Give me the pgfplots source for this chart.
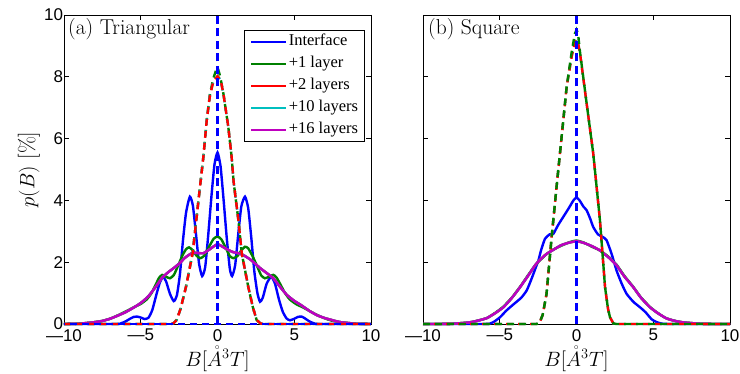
\documentclass[border=0pt]{standalone}
\usepackage{pgfplots}
\pgfplotsset{compat=1.18}
\usepackage{pgfplotstable}
\usepackage{fontspec}
\newfontfamily\tickfont{Liberation Sans}
\newfontfamily\legfont{Liberation Serif}
\definecolor{mblue}{rgb}{0,0,1}
\definecolor{mgreen}{rgb}{0,0.5,0}
\definecolor{mred}{rgb}{1,0,0}
\definecolor{mcyan}{rgb}{0,0.75,0.75}
\definecolor{mmag}{rgb}{0.75,0,0.75}
\newcommand\tickdash{—}

\pgfplotstableread{
x y
-10 0
-6.6 0
-6.3 0.02
-6.0 0.08
-5.7 0.17
-5.45 0.23
-5.25 0.24
-5.0 0.21
-4.75 0.16
-4.5 0.2
-4.25 0.45
-3.96 0.99
-3.75 1.35
-3.55 1.52
-3.35 1.38
-3.1 0.98
-2.85 0.74
-2.65 0.92
-2.45 1.6
-2.25 2.7
-2.05 3.6
-1.8 4.12
-1.6 3.82
-1.4 2.9
-1.2 1.95
-1.0 1.55
-0.8 1.85
-0.6 2.9
-0.4 4.1
-0.2 5.15
0 5.55
0.2 5.1
0.4 4.0
0.6 2.8
0.8 1.8
0.95 1.55
1.15 1.9
1.35 2.9
1.55 3.8
1.79 4.12
2.0 3.75
2.2 2.8
2.4 1.7
2.6 1.0
2.77 0.72
2.95 0.85
3.2 1.3
3.5 1.53
3.75 1.3
4.0 0.8
4.25 0.4
4.5 0.18
4.72 0.12
5.0 0.17
5.25 0.23
5.48 0.24
5.7 0.18
6.0 0.08
6.3 0.02
6.6 0
10 0
}\blueL

\pgfplotstableread{
x y
-10 0
-9 0.01
-8 0.06
-7.5 0.1
-7 0.17
-6.5 0.28
-6 0.4
-5.5 0.53
-5 0.65
-4.6 0.8
-4.3 1.0
-4.0 1.3
-3.8 1.5
-3.6 1.59
-3.35 1.53
-3.1 1.48
-2.85 1.58
-2.6 1.85
-2.3 2.2
-2.05 2.42
-1.85 2.48
-1.6 2.38
-1.35 2.2
-1.1 2.13
-0.85 2.22
-0.55 2.5
-0.25 2.76
0 2.83
0.25 2.74
0.55 2.45
0.8 2.2
1.03 2.13
1.3 2.2
1.55 2.38
1.79 2.5
2.0 2.45
2.3 2.18
2.6 1.85
2.85 1.57
3.09 1.48
3.35 1.53
3.64 1.59
3.85 1.5
4.1 1.28
4.4 1.0
4.7 0.8
5.1 0.65
5.59 0.53
6 0.42
6.5 0.29
7 0.18
7.5 0.1
8 0.06
9 0.01
10 0
}\greenL

\pgfplotstableread{
x y
-10 0
-9 0.01
-8 0.06
-7.5 0.1
-7 0.17
-6.5 0.27
-6 0.38
-5.5 0.52
-5 0.68
-4.5 0.9
-4.0 1.22
-3.6 1.5
-3.2 1.68
-2.8 1.83
-2.44 1.98
-2.1 2.15
-1.68 2.29
-1.3 2.3
-0.92 2.29
-0.5 2.42
0 2.58
0.5 2.45
0.99 2.33
1.3 2.3
1.68 2.23
2.1 2.1
2.44 1.96
2.8 1.8
3.2 1.65
3.64 1.48
4.0 1.25
4.5 0.95
5.0 0.75
5.48 0.6
6 0.42
6.5 0.28
7 0.19
7.44 0.13
8 0.06
9 0.01
10 0
}\magL

\pgfplotstableread{
x y
-10 0
-3.0 0
-2.85 0.03
-2.66 0.13
-2.4 0.5
-2.05 1.21
-1.62 2.29
-1.14 4.44
-0.92 5.41
-0.7 6.6
-0.49 7.4
-0.27 7.85
0 8.02
0.2 7.9
0.38 7.47
0.7 6.39
0.92 5.41
1.05 4.6
1.36 3.37
1.58 2.29
2.0 1.21
2.3 0.55
2.55 0.13
2.8 0.02
3.0 0
10 0
}\redLd

\pgfplotstableread{
x y
-10 0
-3.0 0
-2.85 0.03
-2.66 0.13
-2.4 0.5
-2.05 1.21
-1.62 2.29
-1.14 4.44
-0.92 5.41
-0.7 6.6
-0.49 7.45
-0.27 7.95
-0.1 8.2
0 8.3
0.1 8.15
0.2 7.95
0.38 7.47
0.7 6.39
0.92 5.41
1.05 4.6
1.36 3.37
1.58 2.29
2.0 1.21
2.3 0.55
2.55 0.13
2.8 0.02
3.0 0
10 0
}\greenLd

\pgfplotstableread{
x y
-10 0
-6 0
-5.6 0.02
-5.41 0.06
-4.98 0.22
-4.6 0.42
-4.33 0.54
-4.0 0.68
-3.6 0.85
-3.24 1.09
-2.9 1.5
-2.6 1.9
-2.48 2.06
-2.3 2.4
-2.05 2.76
-1.75 2.9
-1.51 2.92
-1.2 3.2
-0.87 3.46
-0.5 3.75
-0.2 4.0
0 4.09
0.2 4.0
0.45 3.8
0.66 3.68
0.9 3.4
1.09 3.14
1.4 2.9
1.7 2.82
1.96 2.71
2.3 2.25
2.61 1.73
2.95 1.3
3.26 0.98
3.7 0.72
4.14 0.54
4.5 0.38
4.9 0.15
5.23 0.06
5.5 0.02
6 0
10 0
}\blueR

\pgfplotstableread{
x y
-10 0
-9 0
-8 0.01
-7 0.05
-6.5 0.1
-5.85 0.19
-5.3 0.35
-4.77 0.54
-4.2 0.85
-3.68 1.19
-3.1 1.6
-2.62 1.95
-2.0 2.25
-1.51 2.4
-1.0 2.55
-0.5 2.63
0 2.68
0.5 2.62
1.0 2.52
1.53 2.38
2.1 2.15
2.61 1.9
3.1 1.55
3.7 1.19
4.2 0.85
4.79 0.54
5.3 0.35
5.87 0.18
6.5 0.09
7 0.05
8 0.01
9 0
10 0
}\magR

\pgfplotstableread{
x y
-10 0
-9 0
-8 0.01
-7 0.05
-6.5 0.1
-5.85 0.19
-5.3 0.36
-4.77 0.56
-4.2 0.86
-3.68 1.2
-3.1 1.62
-2.62 1.94
-2.0 2.24
-1.51 2.41
-1.0 2.53
-0.5 2.64
0 2.7
0.5 2.63
1.0 2.5
1.53 2.38
2.1 2.17
2.61 1.92
3.1 1.57
3.7 1.2
4.2 0.86
4.79 0.55
5.3 0.35
5.87 0.18
6.5 0.09
7 0.05
8 0.01
9 0
10 0
}\greenR

\pgfplotstableread{
x y
-10 0
-2.6 0
-2.4 0.05
-2.2 0.3
-1.95 0.98
-1.62 2.81
-1.3 4.43
-0.97 6.05
-0.64 7.68
-0.3 8.7
-0.1 9.1
0 9.2
0.1 9.1
0.23 8.76
0.66 7.14
1.09 5.52
1.53 3.35
1.86 1.19
2.05 0.5
2.18 0.22
2.4 0.02
2.6 0
10 0
}\redRd

\pgfplotstableread{
x y
-10 0
-2.6 0
-2.4 0.05
-2.2 0.3
-1.95 0.98
-1.62 2.81
-1.3 4.43
-0.97 6.05
-0.64 7.68
-0.3 8.85
-0.1 9.4
0 9.52
0.1 9.4
0.23 8.8
0.66 7.14
1.09 5.52
1.53 3.35
1.86 1.19
2.05 0.5
2.18 0.22
2.4 0.02
2.6 0
10 0
}\greenRd

\pgfplotsset{
  panel/.style={
    scale only axis, width=307pt, height=309pt,
    xmin=-10, xmax=10, ymin=0, ymax=10,
    clip=false,
    xtick={-10,-5,0,5,10},
    xticklabels={{\tickdash10},{\tickdash5},0,5,10},
    ytick={0,2,4,6,8,10},
    tick align=inside, xtick pos=both, ytick pos=both,
    xticklabel pos=lower, yticklabel pos=left,
    major tick length=5pt,
    ticklabel style={font=\tickfont\fontsize{17}{17}\selectfont},
    yticklabel style={inner xsep=0.8pt},
    xticklabel style={inner ysep=5pt},
    /pgf/number format/assume math mode=true,
    axis line style={line width=0.8pt},
    every tick/.style={black, line width=0.6pt},
    xlabel={$B[{\mathring{A}}^{3}T]$},
    xlabel style={font=\fontsize{22}{26}\selectfont, at={(axis description cs:0.5,-0.136)}, anchor=base, inner sep=0pt},
  },
}

\begin{document}
\begin{tikzpicture}
\useasboundingbox (-64pt,-50pt) rectangle (676pt,324pt);
\begin{axis}[panel,
  ylabel={$p(B)$ [\%]},
  ylabel style={font=\fontsize{22}{26}\selectfont, at={(axis description cs:-0.0961,0.5)}, anchor=base, inner sep=0pt},
  legend style={at={(axis description cs:0.9805,0.9515)}, anchor=north east,
    font=\legfont\fontsize{16.5}{16.5}\selectfont, draw=black, line width=0.8pt,
    inner xsep=5pt, inner ysep=3pt, row sep=4.5pt,
    nodes={inner sep=1.5pt, text height=11pt, text depth=3.5pt}},
  legend cell align=left,
  legend image code/.code={\draw[#1] (0pt,0pt) -- (35pt,0pt);},
]
\addplot[color=mblue, line width=2.4pt, smooth, tension=0.35] table {\blueL};
\addlegendentry{Interface}
\addplot[color=mgreen, line width=2.4pt, smooth, tension=0.35] table {\greenL};
\addlegendentry{+1 layer}
\addplot[color=mred, line width=2.4pt, smooth, tension=0.35] table {\magL};
\addlegendentry{+2 layers}
\addplot[color=mcyan, line width=2.4pt, smooth, tension=0.35] table {\magL};
\addlegendentry{+10 layers}
\addplot[color=mmag, line width=2.4pt, smooth, tension=0.35] table {\magL};
\addlegendentry{+16 layers}
\addplot[forget plot, color=mgreen, line width=2.4pt, dash pattern=on 7pt off 5pt] table {\greenLd};
\addplot[forget plot, color=mcyan, line width=2.4pt, dash pattern=on 7pt off 5pt, dash phase=0.5pt] table {\redLd};
\addplot[forget plot, color=mred, line width=2.4pt, dash pattern=on 7pt off 5pt, dash phase=1pt] table {\redLd};
\addplot[forget plot, color=mblue, line width=2.4pt, dash pattern=on 7pt off 5pt, dash phase=6pt] coordinates {(-10,0) (10,0)};
\addplot[forget plot, color=mblue, line width=2.4pt, dash pattern=on 8pt off 4.5pt] coordinates {(0,0) (0,10)};
\node[anchor=base west, inner sep=0pt, font=\fontsize{21.5}{24}\selectfont, xshift=4pt, yshift=-20pt] at (rel axis cs:0,1) {(a) Triangular};
\end{axis}
\begin{axis}[panel, at={(359pt,0pt)}, yticklabels={}]
\addplot[color=mblue, line width=2.4pt, smooth, tension=0.35] table {\blueR};
\addplot[color=mgreen, line width=2.4pt, smooth, tension=0.35] table {\greenR};
\addplot[color=mred, line width=2.4pt, smooth, tension=0.35] table {\magR};
\addplot[color=mcyan, line width=2.4pt, smooth, tension=0.35] table {\magR};
\addplot[color=mmag, line width=2.4pt, smooth, tension=0.35] table {\magR};
\addplot[forget plot, color=mcyan, line width=2.4pt, dash pattern=on 7pt off 5pt, dash phase=0.5pt] table {\redRd};
\addplot[forget plot, color=mred, line width=2.4pt, dash pattern=on 7pt off 5pt, dash phase=1pt] table {\redRd};
\addplot[forget plot, color=mgreen, line width=2.4pt, dash pattern=on 7pt off 5pt] table {\greenRd};
\addplot[forget plot, color=mblue, line width=2.4pt, dash pattern=on 8pt off 4.5pt] coordinates {(0,0) (0,10)};
\node[anchor=base west, inner sep=0pt, font=\fontsize{21.5}{24}\selectfont, xshift=5pt, yshift=-20pt] at (rel axis cs:0,1) {(b) Square};
\end{axis}
\end{tikzpicture}
\end{document}
